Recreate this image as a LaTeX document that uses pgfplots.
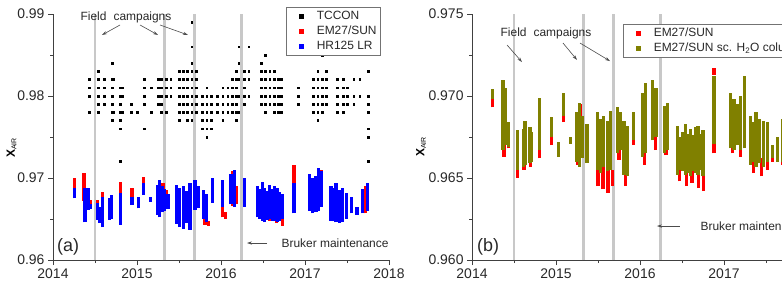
\documentclass[border=0pt]{standalone}
\usepackage{fontspec}
\setmainfont{Liberation Sans}
\usepackage{pgfplots}
\pgfplotsset{compat=1.18}
\usetikzlibrary{arrows.meta}

\definecolor{camp}{RGB}{200,200,200}
\definecolor{oliv}{RGB}{128,128,0}
\definecolor{txt}{RGB}{40,40,40}

\tikzset{
  note/.style={font=\fontsize{12}{14}\selectfont, text=txt},
  arr/.style={black!70, line width=0.6bp, -{Stealth[length=5bp,width=3.2bp]}},
}

\pgfplotsset{
  panel/.style={
    scale only axis, width=336bp, height=246bp,
    xmin=2014, xmax=2018,
    xtick={2014,2015,2016,2017,2018},
    minor x tick num=1, minor y tick num=1,
    axis x line*=bottom, axis y line*=left,
    axis line style={black!75, line width=0.8bp, -},
    every tick/.style={black!75, line width=0.8bp},
    major tick length=5bp, minor tick length=3bp, tick align=outside,
    tick label style={font=\fontsize{14}{16}\selectfont, text=txt},
    /pgf/number format/assume math mode=true,
    xticklabel style={/pgf/number format/1000 sep={}},
    scaled ticks=false,
    unbounded coords=jump,
    clip=false,
    ylabel={\fontsize{12}{12}\selectfont\textbf{X}\raisebox{-1.5bp}{\fontsize{7}{7}\selectfont AIR}},
    legend cell align=left,
    legend style={draw=black!55, line width=0.6bp, fill=white,
      font=\fontsize{12}{14}\selectfont, text=txt,
      inner xsep=2bp, inner ysep=1.5bp, row sep=0bp,
      nodes={inner sep=1.5bp, text height=9bp, text depth=3bp},
      anchor=north west},
  },
  seg/.style={line width=3.2bp, line cap=butt, mark=none},
  sq/.style={legend image code/.code={\path[draw=none, fill=none] (0bp,0bp) -- (27bp,0bp);
      \fill[draw=none, fill=#1] (10.8bp,-2.3bp) rectangle (15.4bp,2.3bp);}},
  campline/.style={camp, line width=2.8bp, forget plot},
}

\begin{document}
\begin{tikzpicture}
\useasboundingbox (0bp,0bp) rectangle (782bp,286bp);
\clip (0bp,0bp) rectangle (782bp,286bp);

% ---------------- (a) TCCON, EM27/SUN and HR125 LR ----------------
\begin{axis}[panel, at={(53bp,26bp)}, anchor=south west,
  ymin=0.96, ymax=0.99, ytick={0.96,0.97,0.98,0.99},
  yticklabel style={/pgf/number format/.cd, fixed, fixed zerofill, precision=2},
  every axis y label/.style={at={(rel axis cs:-0.1235,0.455)}, rotate=90, anchor=center},
  legend style={at={(rel axis cs:0.6935,1.0285)}}]

% field campaigns and instrument maintenance
\addplot[campline] coordinates {(2014.50,0.96)(2014.50,0.99)(2014.50,nan)
  (2015.33,0.96)(2015.33,0.99)(2015.33,nan)
  (2015.68,0.96)(2015.68,0.99)(2015.68,nan)
  (2016.24,0.96)(2016.24,0.99)};

% TCCON
\addplot[only marks, mark=square*, mark size=0.9bp, black, sq=black] coordinates {
(2014.43,0.982)(2014.43,0.981)(2014.43,0.980)(2014.43,0.978)
(2014.54,0.983)(2014.54,0.982)(2014.54,0.981)(2014.54,0.980)(2014.54,0.979)(2014.54,0.978)
(2014.61,0.982)(2014.61,0.981)(2014.61,0.980)(2014.61,0.979)
(2014.70,0.984)(2014.70,0.982)(2014.70,0.981)(2014.70,0.980)(2014.70,0.979)(2014.70,0.978)(2014.70,0.977)
(2014.72,0.982)(2014.72,0.978)
(2014.80,0.981)(2014.80,0.980)(2014.80,0.979)(2014.80,0.978)(2014.80,0.977)(2014.80,0.976)(2014.80,0.972)
(2014.83,0.981)(2014.83,0.980)(2014.83,0.978)
(2014.93,0.979)(2014.93,0.978)(2015.00,0.978)
(2015.09,0.982)(2015.09,0.981)(2015.09,0.980)(2015.09,0.979)(2015.09,0.976)
(2015.17,0.981)(2015.17,0.978)
(2015.25,0.982)(2015.25,0.981)(2015.25,0.980)(2015.25,0.979)
(2015.29,0.982)(2015.29,0.981)(2015.29,0.980)(2015.29,0.979)(2015.29,0.978)
(2015.35,0.982)(2015.35,0.981)(2015.35,0.980)(2015.35,0.978)
(2015.40,0.982)(2015.40,0.981)(2015.40,0.980)
(2015.50,0.983)(2015.50,0.982)(2015.50,0.981)(2015.50,0.980)(2015.50,0.979)(2015.50,0.978)(2015.50,0.977)
(2015.55,0.983)(2015.55,0.982)(2015.55,0.981)(2015.55,0.980)(2015.55,0.979)(2015.55,0.978)
(2015.60,0.983)(2015.60,0.982)(2015.60,0.981)(2015.60,0.980)(2015.60,0.979)(2015.60,0.978)(2015.60,0.977)
(2015.65,0.989)(2015.65,0.986)(2015.65,0.984)(2015.65,0.983)(2015.65,0.982)(2015.65,0.981)(2015.65,0.980)(2015.65,0.979)(2015.65,0.978)(2015.65,0.977)
(2015.70,0.983)(2015.70,0.982)(2015.70,0.981)(2015.70,0.980)(2015.70,0.979)(2015.70,0.978)
(2015.78,0.980)(2015.78,0.979)(2015.78,0.978)(2015.78,0.977)(2015.78,0.976)
(2015.83,0.981)(2015.83,0.980)(2015.83,0.979)(2015.83,0.978)(2015.83,0.977)(2015.83,0.976)(2015.83,0.975)
(2015.88,0.980)(2015.88,0.979)(2015.88,0.978)(2015.88,0.977)(2015.88,0.976)
(2015.95,0.980)(2015.95,0.979)(2015.95,0.978)
(2016.02,0.981)(2016.02,0.980)(2016.02,0.979)(2016.02,0.978)(2016.02,0.977)
(2016.08,0.981)(2016.08,0.980)(2016.08,0.979)(2016.08,0.978)
(2016.13,0.982)(2016.13,0.981)(2016.13,0.980)(2016.13,0.979)(2016.13,0.978)
(2016.18,0.983)(2016.18,0.982)(2016.18,0.981)(2016.18,0.980)(2016.18,0.979)(2016.18,0.978)(2016.18,0.977)
(2016.21,0.986)(2016.21,0.984)(2016.21,0.982)(2016.21,0.980)(2016.21,0.978)
(2016.28,0.983)(2016.28,0.982)(2016.28,0.981)(2016.28,0.980)(2016.28,0.979)
(2016.33,0.986)(2016.33,0.983)(2016.33,0.982)(2016.33,0.980)
(2016.48,0.984)(2016.48,0.983)(2016.48,0.982)(2016.48,0.981)(2016.48,0.980)(2016.48,0.979)
(2016.53,0.985)(2016.53,0.983)(2016.53,0.982)(2016.53,0.981)(2016.53,0.980)(2016.53,0.979)(2016.53,0.978)
(2016.58,0.983)(2016.58,0.982)(2016.58,0.981)(2016.58,0.980)(2016.58,0.979)
(2016.63,0.983)(2016.63,0.982)(2016.63,0.981)(2016.63,0.980)(2016.63,0.979)(2016.63,0.978)
(2016.68,0.982)(2016.68,0.981)(2016.68,0.980)(2016.68,0.979)(2016.68,0.978)
(2016.72,0.982)(2016.72,0.981)(2016.72,0.980)(2016.72,0.979)(2016.72,0.978)
(2016.92,0.981)(2016.92,0.980)(2016.92,0.979)
(2017.10,0.982)(2017.10,0.981)(2017.10,0.980)(2017.10,0.979)(2017.10,0.978)
(2017.15,0.983)(2017.15,0.982)(2017.15,0.981)(2017.15,0.980)(2017.15,0.979)(2017.15,0.978)(2017.15,0.977)
(2017.20,0.985)(2017.20,0.982)(2017.20,0.981)(2017.20,0.980)(2017.20,0.979)(2017.20,0.978)
(2017.25,0.983)(2017.25,0.982)(2017.25,0.981)(2017.25,0.980)(2017.25,0.979)
(2017.38,0.982)(2017.38,0.981)(2017.38,0.980)(2017.38,0.979)(2017.38,0.978)
(2017.45,0.982)(2017.45,0.981)(2017.45,0.980)(2017.45,0.979)(2017.45,0.978)
(2017.50,0.981)(2017.50,0.980)(2017.50,0.979)
(2017.58,0.982)(2017.58,0.980)(2017.58,0.979)
(2017.65,0.982)(2017.65,0.980)
(2017.75,0.983)(2017.75,0.980)(2017.75,0.979)(2017.75,0.978)(2017.75,0.976)(2017.75,0.975)(2017.75,0.972)
};
\addlegendentry{TCCON}

% EM27/SUN (daily ranges)
\addplot[seg, red, sq=red] coordinates {
(2014.26,0.9688)(2014.26,0.9700)(2014.26,nan)
(2014.37,0.9672)(2014.37,0.9706)(2014.37,nan)
(2014.41,0.9668)(2014.41,0.9688)(2014.41,nan)
(2014.44,0.9667)(2014.44,0.9673)(2014.44,nan)
(2014.53,0.9652)(2014.53,0.9673)(2014.53,nan)
(2014.59,0.9655)(2014.59,0.9683)(2014.59,nan)
(2014.68,0.9652)(2014.68,0.9675)(2014.68,nan)
(2014.80,0.9662)(2014.80,0.9695)(2014.80,nan)
(2014.94,0.9677)(2014.94,0.9688)(2014.94,nan)
(2015.08,0.9685)(2015.08,0.9701)(2015.08,nan)
(2015.25,0.9668)(2015.25,0.9688)(2015.25,nan)
(2015.31,0.9660)(2015.31,0.9694)(2015.31,nan)
(2015.35,0.9665)(2015.35,0.9685)(2015.35,nan)
(2015.50,0.9650)(2015.50,0.9675)(2015.50,nan)
(2015.58,0.9645)(2015.58,0.9670)(2015.58,nan)
(2015.63,0.9655)(2015.63,0.9692)(2015.63,nan)
(2015.71,0.9663)(2015.71,0.9690)(2015.71,nan)
(2015.81,0.9643)(2015.81,0.9665)(2015.81,nan)
(2015.85,0.9642)(2015.85,0.9648)(2015.85,nan)
(2016.02,0.9652)(2016.02,0.9685)(2016.02,nan)
(2016.05,0.9650)(2016.05,0.9658)(2016.05,nan)
(2016.14,0.9666)(2016.14,0.9708)(2016.14,nan)
(2016.18,0.9668)(2016.18,0.9690)(2016.18,nan)
(2016.28,0.9672)(2016.28,0.9695)(2016.28,nan)
(2016.47,0.9650)(2016.47,0.9668)(2016.47,nan)
(2016.58,0.9648)(2016.58,0.9665)(2016.58,nan)
(2016.66,0.9645)(2016.66,0.9662)(2016.66,nan)
(2016.73,0.9642)(2016.73,0.9670)(2016.73,nan)
(2016.87,0.9685)(2016.87,0.9716)(2016.87,nan)
(2017.08,0.9675)(2017.08,0.9698)(2017.08,nan)
(2017.20,0.9668)(2017.20,0.9710)(2017.20,nan)
(2017.33,0.9650)(2017.33,0.9678)(2017.33,nan)
(2017.45,0.9648)(2017.45,0.9672)(2017.45,nan)
(2017.72,0.9657)(2017.72,0.9690)
};
\addlegendentry{EM27/SUN}

% HR125 LR (daily ranges)
\addplot[seg, blue, sq=blue] coordinates {
(2014.26,0.9675)(2014.26,0.9688)(2014.26,nan)
(2014.38,0.9646)(2014.38,0.9688)(2014.38,nan)
(2014.42,0.9661)(2014.42,0.9688)(2014.42,nan)
(2014.45,0.9662)(2014.45,0.9668)(2014.45,nan)
(2014.53,0.9649)(2014.53,0.9670)(2014.53,nan)
(2014.56,0.9645)(2014.56,0.9665)(2014.56,nan)
(2014.59,0.9640)(2014.59,0.9677)(2014.59,nan)
(2014.67,0.9649)(2014.67,0.9676)(2014.67,nan)
(2014.70,0.9650)(2014.70,0.9679)(2014.70,nan)
(2014.80,0.9643)(2014.80,0.9682)(2014.80,nan)
(2014.94,0.9667)(2014.94,0.9677)(2014.94,nan)
(2015.02,0.9663)(2015.02,0.9677)(2015.02,nan)
(2015.08,0.9679)(2015.08,0.9694)(2015.08,nan)
(2015.16,0.9671)(2015.16,0.9677)(2015.16,nan)
(2015.24,0.9655)(2015.24,0.9692)(2015.24,nan)
(2015.27,0.9652)(2015.27,0.9697)(2015.27,nan)
(2015.30,0.9658)(2015.30,0.9690)(2015.30,nan)
(2015.33,0.9660)(2015.33,0.9686)(2015.33,nan)
(2015.37,0.9662)(2015.37,0.9680)(2015.37,nan)
(2015.47,0.9644)(2015.47,0.9692)(2015.47,nan)
(2015.51,0.9640)(2015.51,0.9688)(2015.51,nan)
(2015.55,0.9638)(2015.55,0.9690)(2015.55,nan)
(2015.59,0.9645)(2015.59,0.9684)(2015.59,nan)
(2015.63,0.9637)(2015.63,0.9694)(2015.63,nan)
(2015.69,0.9661)(2015.69,0.9697)(2015.69,nan)
(2015.73,0.9664)(2015.73,0.9690)(2015.73,nan)
(2015.79,0.9650)(2015.79,0.9685)(2015.79,nan)
(2015.83,0.9646)(2015.83,0.9680)(2015.83,nan)
(2015.90,0.9670)(2015.90,0.9700)(2015.90,nan)
(2016.02,0.9665)(2016.02,0.9698)(2016.02,nan)
(2016.12,0.9668)(2016.12,0.9705)(2016.12,nan)
(2016.16,0.9665)(2016.16,0.9710)(2016.16,nan)
(2016.28,0.9665)(2016.28,0.9700)(2016.28,nan)
(2016.43,0.9652)(2016.43,0.9690)(2016.43,nan)
(2016.46,0.9650)(2016.46,0.9686)(2016.46,nan)
(2016.49,0.9648)(2016.49,0.9695)(2016.49,nan)
(2016.52,0.9646)(2016.52,0.9688)(2016.52,nan)
(2016.55,0.9649)(2016.55,0.9684)(2016.55,nan)
(2016.58,0.9650)(2016.58,0.9692)(2016.58,nan)
(2016.61,0.9648)(2016.61,0.9686)(2016.61,nan)
(2016.64,0.9647)(2016.64,0.9690)(2016.64,nan)
(2016.67,0.9646)(2016.67,0.9688)(2016.67,nan)
(2016.70,0.9648)(2016.70,0.9683)(2016.70,nan)
(2016.73,0.9650)(2016.73,0.9680)(2016.73,nan)
(2016.87,0.9657)(2016.87,0.9694)(2016.87,nan)
(2017.05,0.9660)(2017.05,0.9705)(2017.05,nan)
(2017.09,0.9657)(2017.09,0.9700)(2017.09,nan)
(2017.13,0.9658)(2017.13,0.9702)(2017.13,nan)
(2017.16,0.9660)(2017.16,0.9712)(2017.16,nan)
(2017.20,0.9665)(2017.20,0.9708)(2017.20,nan)
(2017.31,0.9648)(2017.31,0.9690)(2017.31,nan)
(2017.34,0.9647)(2017.34,0.9688)(2017.34,nan)
(2017.37,0.9646)(2017.37,0.9694)(2017.37,nan)
(2017.41,0.9645)(2017.41,0.9685)(2017.41,nan)
(2017.45,0.9646)(2017.45,0.9688)(2017.45,nan)
(2017.49,0.9650)(2017.49,0.9682)(2017.49,nan)
(2017.55,0.9657)(2017.55,0.9677)(2017.55,nan)
(2017.62,0.9655)(2017.62,0.9665)(2017.62,nan)
(2017.68,0.9657)(2017.68,0.9686)(2017.68,nan)
(2017.74,0.9660)(2017.74,0.9694)
};
\addlegendentry{HR125 LR}

\node[note] at (axis cs:2014.869,0.98963) {Field\hspace{7bp}campaigns};
\draw[arr] (axis cs:2014.798,0.98866) -- (axis cs:2014.583,0.98744);
\draw[arr] (axis cs:2015.036,0.98866) -- (axis cs:2015.250,0.98744);
\draw[arr] (axis cs:2015.274,0.98866) -- (axis cs:2015.607,0.98744);
\draw[arr] (axis cs:2016.548,0.96207) -- (axis cs:2016.310,0.96207);
\node[note, anchor=west] at (axis cs:2016.679,0.96207) {Bruker maintenance};
\node[font=\fontsize{18}{18}\selectfont, text=txt, anchor=west, inner sep=0pt] at (rel axis cs:0.012,0.053) {(a)};
\end{axis}

% ---------------- (b) EM27/SUN with scaled H2O column ----------------
\begin{axis}[panel, at={(472bp,26bp)}, anchor=south west,
  ymin=0.96, ymax=0.975, ytick={0.96,0.965,0.97,0.975},
  yticklabel style={/pgf/number format/.cd, fixed, fixed zerofill, precision=3},
  every axis y label/.style={at={(rel axis cs:-0.1518,0.459)}, rotate=90, anchor=center},
  legend style={at={(rel axis cs:0.4494,0.9593)}}]

\addplot[campline] coordinates {(2014.50,0.96)(2014.50,0.975)(2014.50,nan)
  (2015.33,0.96)(2015.33,0.975)(2015.33,nan)
  (2015.68,0.96)(2015.68,0.975)(2015.68,nan)
  (2016.24,0.96)(2016.24,0.975)};

% EM27/SUN (daily ranges)
\addplot[seg, red, sq=red] coordinates {
(2014.24,0.9693)(2014.24,0.9700)(2014.24,nan)
(2014.38,0.9663)(2014.38,0.9702)(2014.38,nan)
(2014.43,0.9668)(2014.43,0.9673)(2014.43,nan)
(2014.54,0.9650)(2014.54,0.9663)(2014.54,nan)
(2014.62,0.9655)(2014.62,0.9668)(2014.62,nan)
(2014.70,0.9657)(2014.70,0.9670)(2014.70,nan)
(2014.80,0.9662)(2014.80,0.9677)(2014.80,nan)
(2014.95,0.9670)(2014.95,0.9675)(2014.95,nan)
(2015.09,0.9684)(2015.09,0.9688)(2015.09,nan)
(2015.26,0.9658)(2015.26,0.9672)(2015.26,nan)
(2015.29,0.9688)(2015.29,0.9695)(2015.29,nan)
(2015.50,0.9645)(2015.50,0.9660)(2015.50,nan)
(2015.56,0.9643)(2015.56,0.9658)(2015.56,nan)
(2015.62,0.9641)(2015.62,0.9660)(2015.62,nan)
(2015.67,0.9645)(2015.67,0.9655)(2015.67,nan)
(2015.75,0.9661)(2015.75,0.9673)(2015.75,nan)
(2015.83,0.9645)(2015.83,0.9660)(2015.83,nan)
(2015.92,0.9670)(2015.92,0.9673)(2015.92,nan)
(2016.05,0.9658)(2016.05,0.9690)(2016.05,nan)
(2016.18,0.9667)(2016.18,0.9688)(2016.18,nan)
(2016.31,0.9664)(2016.31,0.9667)(2016.31,nan)
(2016.47,0.9648)(2016.47,0.9660)(2016.47,nan)
(2016.55,0.9645)(2016.55,0.9658)(2016.55,nan)
(2016.62,0.9647)(2016.62,0.9660)(2016.62,nan)
(2016.70,0.9644)(2016.70,0.9657)(2016.70,nan)
(2016.76,0.9642)(2016.76,0.9655)(2016.76,nan)
(2016.88,0.9665)(2016.88,0.9672)(2016.88,nan)
(2016.88,0.9713)(2016.88,0.9717)(2016.88,nan)
(2017.10,0.9665)(2017.10,0.9680)(2017.10,nan)
(2017.20,0.9663)(2017.20,0.9675)(2017.20,nan)
(2017.35,0.9653)(2017.35,0.9665)(2017.35,nan)
(2017.45,0.9651)(2017.45,0.9662)(2017.45,nan)
(2017.52,0.9655)(2017.52,0.9665)(2017.52,nan)
(2017.58,0.9660)(2017.58,0.9665)(2017.58,nan)
(2017.70,0.9658)(2017.70,0.9668)
};
\addlegendentry{EM27/SUN}

% EM27/SUN with scaled H2O column (daily ranges)
\addplot[seg, oliv, sq=oliv] coordinates {
(2014.24,0.9698)(2014.24,0.9704)(2014.24,nan)
(2014.37,0.9667)(2014.37,0.9710)(2014.37,nan)
(2014.40,0.9670)(2014.40,0.9705)(2014.40,nan)
(2014.43,0.9669)(2014.43,0.9684)(2014.43,nan)
(2014.54,0.9655)(2014.54,0.9679)(2014.54,nan)
(2014.61,0.9657)(2014.61,0.9680)(2014.61,nan)
(2014.63,0.9658)(2014.63,0.9685)(2014.63,nan)
(2014.69,0.9659)(2014.69,0.9681)(2014.69,nan)
(2014.71,0.9660)(2014.71,0.9678)(2014.71,nan)
(2014.80,0.9667)(2014.80,0.9699)(2014.80,nan)
(2014.95,0.9675)(2014.95,0.9687)(2014.95,nan)
(2015.03,0.9663)(2015.03,0.9672)(2015.03,nan)
(2015.09,0.9688)(2015.09,0.9702)(2015.09,nan)
(2015.17,0.9671)(2015.17,0.9675)(2015.17,nan)
(2015.25,0.9660)(2015.25,0.9690)(2015.25,nan)
(2015.28,0.9657)(2015.28,0.9696)(2015.28,nan)
(2015.31,0.9662)(2015.31,0.9688)(2015.31,nan)
(2015.37,0.9659)(2015.37,0.9683)(2015.37,nan)
(2015.49,0.9655)(2015.49,0.9690)(2015.49,nan)
(2015.53,0.9653)(2015.53,0.9686)(2015.53,nan)
(2015.57,0.9657)(2015.57,0.9688)(2015.57,nan)
(2015.61,0.9654)(2015.61,0.9685)(2015.61,nan)
(2015.65,0.9655)(2015.65,0.9691)(2015.65,nan)
(2015.73,0.9665)(2015.73,0.9693)(2015.73,nan)
(2015.77,0.9667)(2015.77,0.9690)(2015.77,nan)
(2015.81,0.9652)(2015.81,0.9685)(2015.81,nan)
(2015.85,0.9651)(2015.85,0.9682)(2015.85,nan)
(2015.92,0.9673)(2015.92,0.9690)(2015.92,nan)
(2016.03,0.9663)(2016.03,0.9702)(2016.03,nan)
(2016.07,0.9665)(2016.07,0.9708)(2016.07,nan)
(2016.15,0.9673)(2016.15,0.9710)(2016.15,nan)
(2016.19,0.9675)(2016.19,0.9705)(2016.19,nan)
(2016.29,0.9665)(2016.29,0.9694)(2016.29,nan)
(2016.33,0.9667)(2016.33,0.9696)(2016.33,nan)
(2016.45,0.9652)(2016.45,0.9682)(2016.45,nan)
(2016.48,0.9655)(2016.48,0.9675)(2016.48,nan)
(2016.51,0.9654)(2016.51,0.9678)(2016.51,nan)
(2016.54,0.9652)(2016.54,0.9683)(2016.54,nan)
(2016.57,0.9653)(2016.57,0.9677)(2016.57,nan)
(2016.60,0.9651)(2016.60,0.9680)(2016.60,nan)
(2016.63,0.9654)(2016.63,0.9676)(2016.63,nan)
(2016.66,0.9653)(2016.66,0.9681)(2016.66,nan)
(2016.69,0.9652)(2016.69,0.9682)(2016.69,nan)
(2016.72,0.9655)(2016.72,0.9677)(2016.72,nan)
(2016.75,0.9651)(2016.75,0.9679)(2016.75,nan)
(2016.88,0.9671)(2016.88,0.9712)(2016.88,nan)
(2017.08,0.9668)(2017.08,0.9702)(2017.08,nan)
(2017.12,0.9667)(2017.12,0.9698)(2017.12,nan)
(2017.16,0.9670)(2017.16,0.9695)(2017.16,nan)
(2017.20,0.9667)(2017.20,0.9700)(2017.20,nan)
(2017.24,0.9668)(2017.24,0.9712)(2017.24,nan)
(2017.32,0.9658)(2017.32,0.9688)(2017.32,nan)
(2017.35,0.9660)(2017.35,0.9684)(2017.35,nan)
(2017.38,0.9657)(2017.38,0.9690)(2017.38,nan)
(2017.42,0.9659)(2017.42,0.9686)(2017.42,nan)
(2017.47,0.9657)(2017.47,0.9685)(2017.47,nan)
(2017.52,0.9660)(2017.52,0.9684)(2017.52,nan)
(2017.58,0.9662)(2017.58,0.9670)(2017.58,nan)
(2017.64,0.9660)(2017.64,0.9675)(2017.64,nan)
(2017.70,0.9660)(2017.70,0.9686)
};
\addlegendentry{EM27/SUN sc. H\textsubscript{2}O column}

\node[note] at (axis cs:2014.881,0.97384) {Field\hspace{7bp}campaigns};
\draw[arr] (axis cs:2014.417,0.97311) -- (axis cs:2014.595,0.97207);
\draw[arr] (axis cs:2015.083,0.97323) -- (axis cs:2015.250,0.97220);
\draw[arr] (axis cs:2015.286,0.97323) -- (axis cs:2015.643,0.97213);
\draw[arr] (axis cs:2016.476,0.96207) -- (axis cs:2016.202,0.96207);
\node[note, anchor=west] at (axis cs:2016.679,0.96207) {Bruker maintenance};
\node[font=\fontsize{18}{18}\selectfont, text=txt, anchor=west, inner sep=0pt] at (rel axis cs:0.015,0.053) {(b)};
\end{axis}
\end{tikzpicture}
\end{document}
